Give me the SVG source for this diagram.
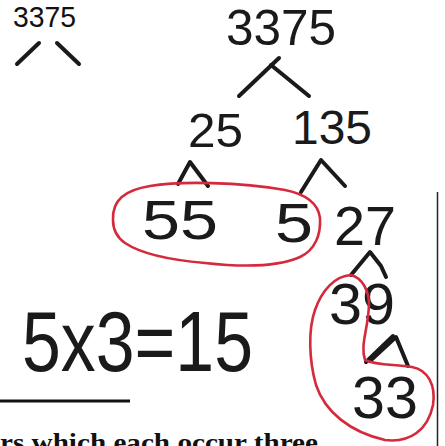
<svg xmlns="http://www.w3.org/2000/svg" width="445" height="446" viewBox="0 0 445 446">
<style>
.hw{font-family:"Liberation Sans","DejaVu Sans",sans-serif;fill:#1a1a1a;}
.typed{font-family:"Liberation Sans","DejaVu Sans",sans-serif;fill:#111;}
.ln{stroke:#1a1a1a;stroke-width:4;stroke-linecap:round;stroke-linejoin:round;fill:none;}
.red{stroke:#d42a3c;stroke-width:2.6;fill:none;stroke-linejoin:round;}
.book{font-family:"Liberation Serif","DejaVu Serif",serif;font-weight:bold;fill:#111;}
</style>
<rect width="445" height="446" fill="#ffffff"/>

<g id="typed-3375">
<text class="typed" x="13" y="27" font-size="29" textLength="63" lengthAdjust="spacingAndGlyphs">3375</text>
</g>

<g id="n3375">
<text class="hw" x="226" y="45" font-size="50" textLength="110" lengthAdjust="spacingAndGlyphs">3375</text>
</g>
<g id="n25">
<text class="hw" x="188" y="147" font-size="48" textLength="55" lengthAdjust="spacingAndGlyphs">25</text>
</g>
<g id="n135">
<text class="hw" x="292" y="144" font-size="48" textLength="80" lengthAdjust="spacingAndGlyphs">135</text>
</g>
<g id="n55">
<text class="hw" x="142" y="239" font-size="56" textLength="76" lengthAdjust="spacingAndGlyphs">55</text>
</g>
<g id="n5">
<text class="hw" x="275" y="242" font-size="56" textLength="38" lengthAdjust="spacingAndGlyphs">5</text>
</g>
<g id="n27">
<text class="hw" x="334" y="245" font-size="56" textLength="62" lengthAdjust="spacingAndGlyphs">27</text>
</g>
<g id="n39">
<text class="hw" x="329" y="324" font-size="58" textLength="66" lengthAdjust="spacingAndGlyphs">39</text>
</g>
<g id="n33">
<text class="hw" x="352" y="418" font-size="60" textLength="66" lengthAdjust="spacingAndGlyphs">33</text>
</g>
<g id="equation">
<text class="hw" x="22" y="371" font-size="86" textLength="231" lengthAdjust="spacingAndGlyphs">5x3=15</text>
</g>

<g id="connectors">
<path class="ln" d="M17 64 L39 43"/>
<path class="ln" d="M57 43 L79 64"/>
<path class="ln" d="M239 96 L279 58"/>
<path class="ln" d="M271 65 L309 96"/>
<path class="ln" d="M178 184 L190 162 L208 186"/>
<path class="ln" d="M301 192 L321 160 L345 186"/>
<path class="ln" d="M351 275 L370 252 L381 266 L386 277"/>
<path class="ln" stroke-width="3" d="M366 362 L393 336 M370 361 L396 337 L408 366"/>
</g>

<g id="groupings">
<path class="red" d="M113 220 C112 200 125 190 150 186 C180 181 240 182 285 190 C305 194 318 202 320 218 C321 235 315 250 300 257 C280 266 250 268 205 263 C170 260 140 253 125 243 C115 236 113 228 113 220 Z"/>
<path class="red" d="M351 275 C335 276 322 290 315 310 C308 330 309 360 316 385 C325 412 350 432 385 440 C410 443 428 430 433 405 C436 385 428 370 412 367 C395 364 378 366 365 360 C360 345 368 330 369 305 C369 290 362 278 351 275 Z"/>
</g>

<g id="page">
<line x1="0" y1="401" x2="130" y2="401" stroke="#111" stroke-width="3"/>
<line x1="437.5" y1="192" x2="437.5" y2="446" stroke="#222" stroke-width="1.5"/>
<text class="book" x="0" y="451" font-size="26" textLength="318" lengthAdjust="spacingAndGlyphs">rs which each occur three</text>
</g>
</svg>
